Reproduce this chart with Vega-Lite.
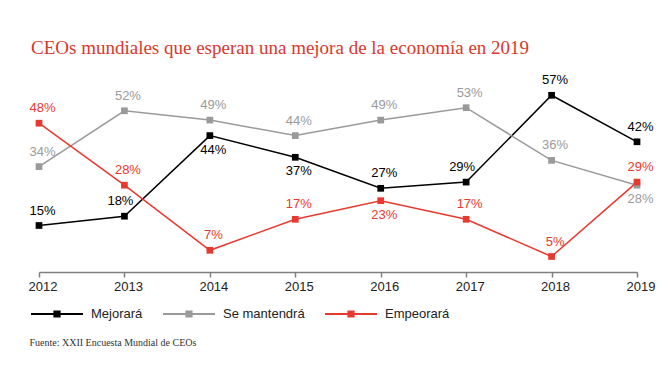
{
  "$schema": "https://vega.github.io/schema/vega-lite/v6.json",
  "width": 598,
  "height": 186,
  "autosize": {"type": "none"},
  "padding": {"left": 39, "top": 86, "right": 35, "bottom": 106},
  "background": "white",
  "title": {
    "text": "CEOs mundiales que esperan una mejora de la economía en 2019",
    "anchor": "start",
    "frame": "group",
    "font": "Liberation Serif",
    "fontSize": 19,
    "fontWeight": "normal",
    "color": "#d9382c",
    "baseline": "alphabetic",
    "offset": 1,
    "dx": -8
  },
  "config": {
    "view": {"stroke": null},
    "text": {"font": "Liberation Sans"}
  },
  "data": {
    "values": [
      {"year": 2012, "serie": "Mejorará", "value": 15},
      {"year": 2013, "serie": "Mejorará", "value": 18},
      {"year": 2014, "serie": "Mejorará", "value": 44},
      {"year": 2015, "serie": "Mejorará", "value": 37},
      {"year": 2016, "serie": "Mejorará", "value": 27},
      {"year": 2017, "serie": "Mejorará", "value": 29},
      {"year": 2018, "serie": "Mejorará", "value": 57},
      {"year": 2019, "serie": "Mejorará", "value": 42},
      {"year": 2012, "serie": "Se mantendrá", "value": 34},
      {"year": 2013, "serie": "Se mantendrá", "value": 52},
      {"year": 2014, "serie": "Se mantendrá", "value": 49},
      {"year": 2015, "serie": "Se mantendrá", "value": 44},
      {"year": 2016, "serie": "Se mantendrá", "value": 49},
      {"year": 2017, "serie": "Se mantendrá", "value": 53},
      {"year": 2018, "serie": "Se mantendrá", "value": 36},
      {"year": 2019, "serie": "Se mantendrá", "value": 28},
      {"year": 2012, "serie": "Empeorará", "value": 48},
      {"year": 2013, "serie": "Empeorará", "value": 28},
      {"year": 2014, "serie": "Empeorará", "value": 7},
      {"year": 2015, "serie": "Empeorará", "value": 17},
      {"year": 2016, "serie": "Empeorará", "value": 23},
      {"year": 2017, "serie": "Empeorará", "value": 17},
      {"year": 2018, "serie": "Empeorará", "value": 5},
      {"year": 2019, "serie": "Empeorará", "value": 29}
    ]
  },
  "transform": [
    {"calculate": "datum.value + '%'", "as": "label"},
    {"calculate": "(datum.serie == 'Mejorará' && (datum.year == 2014 || datum.year == 2015)) || (datum.serie == 'Se mantendrá' && datum.year == 2019) || (datum.serie == 'Empeorará' && datum.year == 2016)", "as": "below"},
    {"calculate": "datum.serie == 'Mejorará' && (datum.year == 2013 || datum.year == 2017)", "as": "leftish"}
  ],
  "encoding": {
    "x": {
      "field": "year",
      "type": "ordinal",
      "scale": {"type": "point", "padding": 0},
      "axis": {
        "title": "Fuente: XXII Encuesta Mundial de CEOs",
        "titleX": -10,
        "titleY": 70,
        "titleAlign": "left",
        "titleBaseline": "middle",
        "titleFont": "Liberation Serif",
        "titleFontSize": 10,
        "titleFontWeight": "normal",
        "titleColor": "#333333",
        "labelAngle": 0,
        "labelFont": "Liberation Sans",
        "labelFontSize": 13,
        "labelColor": "#222222",
        "labelPadding": 3,
        "labelOffset": 3.5,
        "domainColor": "#808080",
        "domainWidth": 1.5,
        "tickColor": "#808080",
        "tickWidth": 1.5,
        "tickSize": 5,
        "grid": false
      }
    },
    "y": {
      "field": "value",
      "type": "quantitative",
      "scale": {"domain": [0, 60], "nice": false, "zero": true},
      "axis": null
    },
    "color": {
      "field": "serie",
      "type": "nominal",
      "scale": {
        "domain": ["Mejorará", "Se mantendrá", "Empeorará"],
        "range": ["#000000", "#9a9a9a", "#e8392f"]
      },
      "legend": null
    }
  },
  "layer": [
    {
      "mark": {"type": "line", "strokeWidth": 1.5, "point": {"shape": "square", "filled": true, "size": 45}},
      "encoding": {
        "color": {
          "field": "serie",
          "type": "nominal",
          "scale": {
            "domain": ["Mejorará", "Se mantendrá", "Empeorará"],
            "range": ["#000000", "#9a9a9a", "#e8392f"]
          },
          "legend": {
            "title": null,
            "orient": "none",
            "direction": "horizontal",
            "legendX": -9,
            "legendY": 201,
            "symbolType": "M-1,0L1,0M-0.1,-0.1L0.1,-0.1L0.1,0.1L-0.1,0.1Z",
            "symbolSize": 2704,
            "symbolStrokeWidth": 2,
            "labelFont": "Liberation Sans",
            "labelFontSize": 13,
            "labelColor": "#222222",
            "labelOffset": 7,
            "columnPadding": 16,
            "padding": 0
          }
        }
      }
    },
    {
      "transform": [{"filter": "!datum.below && !datum.leftish"}],
      "mark": {"type": "text", "dy": -15, "dx": 3.5, "fontSize": 13},
      "encoding": {"text": {"field": "label"}}
    },
    {
      "transform": [{"filter": "datum.leftish"}],
      "mark": {"type": "text", "dy": -15.5, "dx": -4, "fontSize": 13},
      "encoding": {"text": {"field": "label"}}
    },
    {
      "transform": [{"filter": "datum.below"}],
      "mark": {"type": "text", "dy": 14, "dx": 3.5, "fontSize": 13},
      "encoding": {"text": {"field": "label"}}
    }
  ]
}
